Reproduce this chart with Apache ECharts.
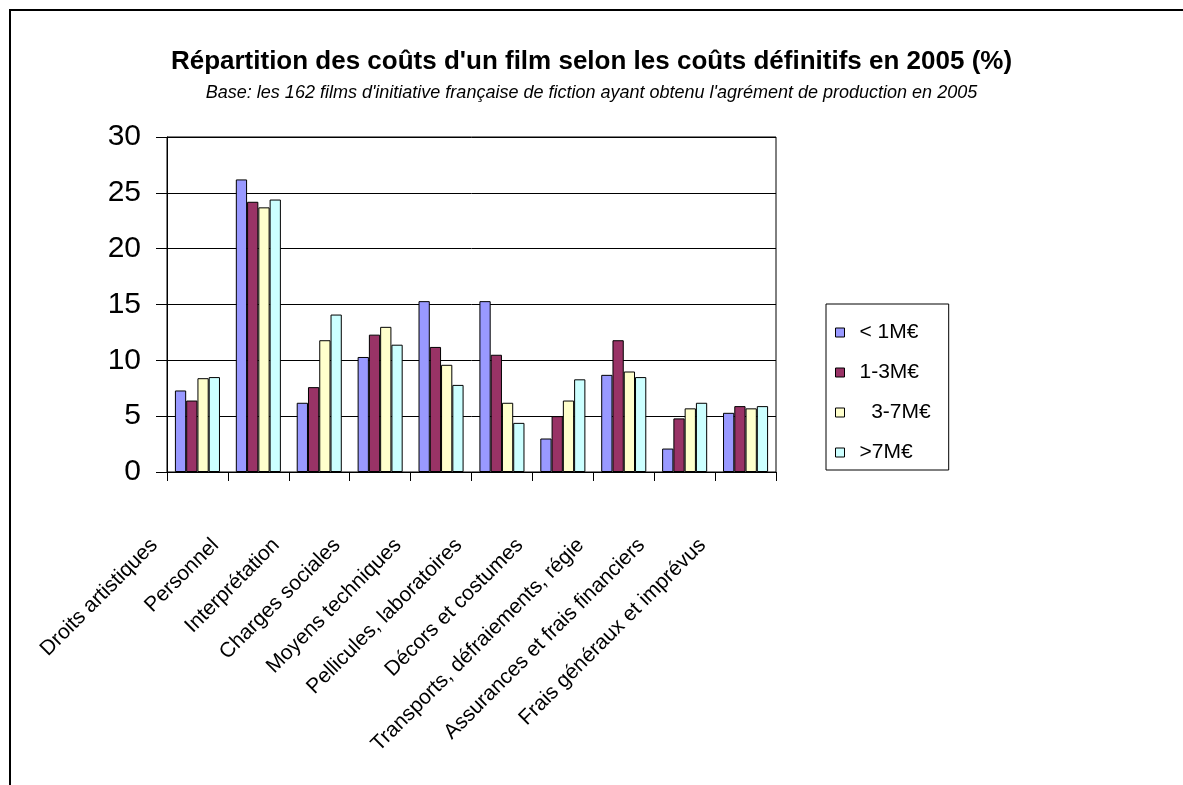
<!DOCTYPE html>
<html>
<head>
<meta charset="UTF-8">
<script src="https://cdn.jsdelivr.net/npm/echarts@6/dist/echarts.min.js"></script>
<style>
  html, body { margin: 0; padding: 0; background: #fff; }
  #main { width: 1183px; height: 785px; }
</style>
</head>
<body>
<div id="main"></div>
<script type="text/javascript">
// categories of costs
var categories = ['Droits artistiques', 'Personnel', 'Interprétation', 'Charges sociales',
  'Moyens techniques', 'Pellicules, laboratoires', 'Décors et costumes',
  'Transports, défraiements, régie', 'Assurances et frais financiers', 'Frais généraux et imprévus'];

// legend names
var seriesNames = ['< 1M€', '1-3M€', '  3-7M€', '>7M€'];

// values (%)
var lessThan1 = [7.3, 26.2, 6.2, 10.3, 15.3, 15.3, 3.0, 8.7, 2.1, 5.3];
var from1to3 = [6.4, 24.2, 7.6, 12.3, 11.2, 10.5, 5.0, 11.8, 4.8, 5.9];
var from3to7 = [8.4, 23.7, 11.8, 13.0, 9.6, 6.2, 6.4, 9.0, 5.7, 5.7];
var moreThan7 = [8.5, 24.4, 14.1, 11.4, 7.8, 4.4, 8.3, 8.5, 6.2, 5.9];

var yTicks = { min: 0, max: 30, interval: 5 };

var colors = ['#9999FF', '#993366', '#FFFFCC', '#CCFFFF'];
var font = 'Liberation Sans, Arial, sans-serif';

var myChart = echarts.init(document.getElementById('main'));

function barSeries(i, data) {
  return {
    name: seriesNames[i],
    type: 'bar',
    xAxisIndex: 0,
    yAxisIndex: 0,
    data: data,
    barGap: '0%',
    barCategoryGap: '26%',
    itemStyle: { color: colors[i], borderColor: '#000', borderWidth: 1 },
    emphasis: { disabled: true }
  };
}

var option = {
  animation: false,
  color: colors,
  textStyle: { fontFamily: font, color: '#000' },
  graphic: [{
    type: 'rect',
    shape: { x: 10, y: 10, width: 1400, height: 1000 },
    style: { fill: 'none', stroke: '#000', lineWidth: 2 },
    silent: true
  }],
  title: [{
    text: "Répartition des coûts d'un film selon les coûts définitifs en 2005 (%)",
    left: 'center',
    top: 44,
    textStyle: { fontFamily: font, fontSize: 26, fontWeight: 'bold', color: '#000' }
  }, {
    text: "Base: les 162 films d'initiative française de fiction ayant obtenu l'agrément de production en 2005",
    left: 'center',
    top: 79,
    textStyle: { fontFamily: font, fontSize: 18, fontStyle: 'italic', fontWeight: 'normal', color: '#000' }
  }],
  legend: {
    orient: 'vertical',
    left: 826,
    top: 304,
    data: seriesNames,
    itemWidth: 9,
    itemHeight: 9,
    itemGap: 19,
    padding: [18, 18, 7, 9],
    borderColor: '#000',
    borderWidth: 1,
    icon: 'rect',
    selectedMode: false,
    itemStyle: { borderColor: '#000', borderWidth: 1 },
    textStyle: { fontFamily: font, fontSize: 21, color: '#000', padding: [0, 0, 0, 10] }
  },
  grid: [{
    left: 167,
    right: 407,
    top: 137,
    bottom: 313,
    show: true,
    borderColor: '#000',
    borderWidth: 1
  }, {
    // second grid only carries the slanted category labels, shifted like in the original
    left: 124,
    right: 450,
    top: 530,
    height: 10
  }],
  xAxis: [{
    type: 'category',
    gridIndex: 0,
    data: categories,
    axisLine: { lineStyle: { color: '#000', width: 1 } },
    axisTick: { show: true, interval: 0, length: 9, lineStyle: { color: '#000' } },
    axisLabel: { show: false }
  }, {
    type: 'category',
    gridIndex: 1,
    data: categories,
    axisLine: { show: false },
    axisTick: { show: false },
    axisLabel: {
      rotate: 45,
      margin: 2,
      interval: 0,
      fontFamily: font,
      fontSize: 21,
      color: '#000'
    }
  }],
  yAxis: [{
    type: 'value',
    gridIndex: 0,
    min: yTicks.min,
    max: yTicks.max,
    interval: yTicks.interval,
    axisLine: { show: true, lineStyle: { color: '#000', width: 1 } },
    axisTick: { show: true, length: 11, lineStyle: { color: '#000' } },
    axisLabel: { fontFamily: font, fontSize: 30, color: '#000', margin: 26 },
    splitLine: { lineStyle: { color: '#000', width: 1 } }
  }, {
    type: 'value',
    gridIndex: 1,
    show: false
  }],
  series: [
    barSeries(0, lessThan1),
    barSeries(1, from1to3),
    barSeries(2, from3to7),
    barSeries(3, moreThan7)
  ]
};

myChart.setOption(option);
</script>
</body>
</html>
